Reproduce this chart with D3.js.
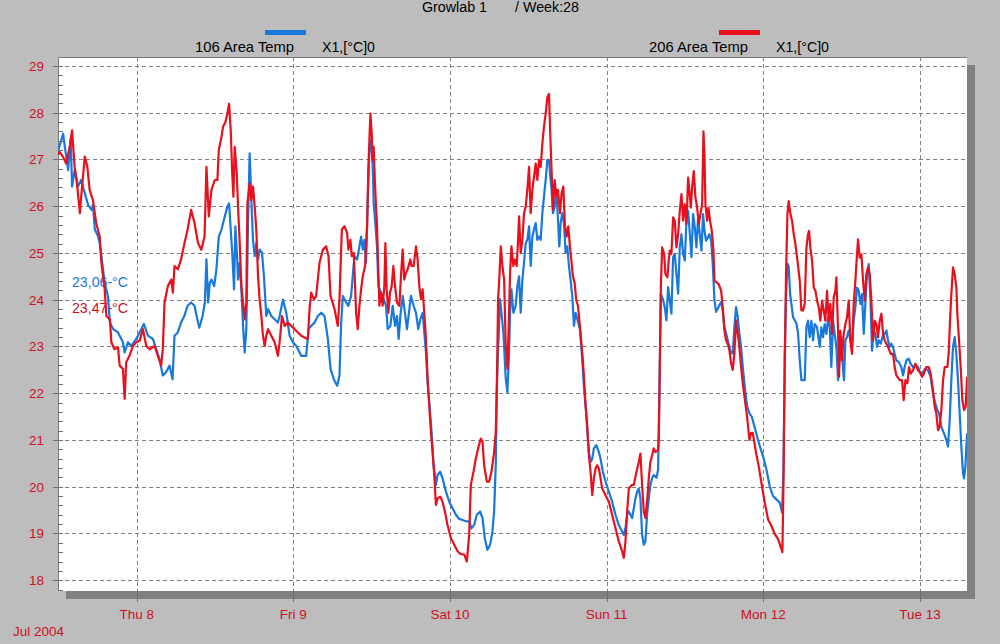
<!DOCTYPE html>
<html><head><meta charset="utf-8">
<script src="https://cdn.jsdelivr.net/npm/d3@7"></script>
<style>html,body{margin:0;padding:0;background:#bdbdbd;}svg{display:block;}</style>
</head><body>
<script>
// ---- data (hours relative to Thu Jul 8 2004 00:00) ----
const blueHours = [-12.0,-11.27,-11.0,-10.5,-10.1,-9.9,-9.5,-9.0,-8.5,-7.95,-7.44,-6.9,-6.7,-6.4,-5.9,-5.66,-5.4,-4.9,-4.4,-4.1,-3.6,-2.86,-2.1,-1.84,-1.33,-0.82,-0.06,0.71,1.11,1.73,2.49,3.0,3.5,4.0,4.5,5.04,5.5,5.8,6.3,6.8,7.3,7.8,8.35,8.86,9.4,9.6,10.1,
10.44,10.69,10.95,11.2,11.46,11.87,12.22,12.58,12.99,13.5,13.9,14.16,14.41,14.67,14.92,15.12,15.38,15.53,15.79,16.04,16.3,16.55,16.8,17.06,17.31,17.57,17.82,18.08,18.33,18.59,18.84,19.2,19.5,19.86,20.12,20.63,21.14,21.64,21.9,22.41,22.92,23.43,23.94,24.45,25.21,25.97,26.33,26.74,27.25,27.76,28.27,28.78,29.29,29.7,30.2,30.71,31.07,31.33,31.58,32.09,32.44,32.85,
33.36,33.77,34.13,34.38,34.64,34.89,35.14,35.4,35.65,35.91,36.16,36.31,36.52,36.82,37.03,37.43,37.84,38.2,38.46,38.87,39.22,39.58,39.88,40.14,40.39,40.75,41.1,41.41,41.77,42.02,42.43,42.79,43.14,43.45,43.81,44.06,44.32,44.57,44.82,45.18,45.49,45.84,46.1,46.5,46.86,47.37,47.88,48.39,48.9,49.41,49.92,50.43,50.94,51.29,51.7,52.11,52.62,52.98,53.33,53.74,54.15,54.5,54.76,55.01,55.16,55.37,55.67,55.93,56.18,
56.54,56.8,57.05,57.2,57.41,57.71,58.07,58.32,58.58,58.83,59.09,59.34,59.6,59.85,60.11,60.36,60.62,60.87,61.13,61.38,61.64,61.89,62.15,62.4,62.66,62.91,63.17,63.32,63.52,63.78,64.03,64.29,64.54,64.75,64.95,65.2,65.46,65.71,65.97,66.22,66.47,66.73,66.99,67.24,67.5,67.9,68.26,68.51,68.77,69.02,69.28,69.53,69.79,70.04,70.4,70.81,71.06,71.42,71.83,72.34,72.84,73.35,73.86,74.37,74.63,74.88,75.14,75.39,75.65,75.9,76.16,76.41,76.66,76.92,77.17,77.43,77.69,77.94,78.19,78.45,78.7,78.96,79.21,
79.63,79.88,80.09,80.3,80.65,80.9,81.16,81.41,81.67,81.92,82.18,82.43,82.69,82.95,83.2,83.46,83.71,83.97,84.22,84.48,84.74,84.99,85.24,85.5,85.75,86.01,86.26,86.52,86.77,86.98,87.23,87.49,87.74,88.0,88.25,88.51,88.76,89.12,89.53,89.78,90.03,90.29,90.55,90.8,91.06,91.31,91.57,91.82,92.08,92.33,92.59,92.85,93.1,93.51,93.87,94.22,94.63,95.04,95.45,95.96,96.47,96.98,97.49,98.0,98.51,98.87,99.08,99.28,99.48,99.69,99.89,100.1,100.3,100.55,100.81,101.07,101.32,101.58,101.83,
102.34,102.6,102.85,103.11,103.36,103.62,103.87,104.23,104.64,104.89,105.15,105.4,105.66,105.92,106.17,106.42,106.68,106.93,107.19,107.45,107.7,107.96,108.21,108.36,108.57,108.82,109.08,109.33,109.59,109.84,110.1,110.35,110.61,110.87,111.12,111.38,111.63,111.89,112.14,112.4,112.65,112.91,113.17,113.42,113.68,113.99,114.24,114.6,114.85,115.1,115.36,115.61,115.87,116.12,116.38,116.74,117.14,117.4,117.65,117.91,118.27,118.57,118.93,119.29,119.7,120.05,120.46,120.82,121.23,121.63,121.99,122.35,122.66,122.91,123.27,123.68,124.04,124.29,124.55,124.8,125.06,125.31,125.57,125.82,126.08,126.33,126.59,126.75,126.95,127.21];
const blueTemps = [27.2,27.55,27.27,26.77,27.45,26.42,26.77,26.42,26.56,26.28,26.03,25.92,26.03,25.5,25.35,25.21,24.93,24.36,24.08,23.51,23.37,23.3,23.09,22.87,23.09,23.01,23.16,23.37,23.48,23.23,23.16,22.94,22.73,22.38,22.45,22.59,22.3,23.23,23.3,23.51,23.65,23.87,23.94,23.87,23.51,23.4,23.65,
23.94,24.86,23.94,24.36,24.43,24.29,24.65,25.35,25.5,25.78,25.99,26.06,25.5,24.93,24.22,25.57,24.93,24.43,24.79,24.22,23.44,22.87,23.37,25.64,27.13,26.13,25.28,24.93,25.21,24.86,25.07,25.0,24.5,23.65,23.8,23.65,23.58,23.51,23.65,24.0,23.72,23.23,23.09,23.01,22.8,22.8,23.37,23.44,23.51,23.65,23.72,23.65,23.16,22.52,22.3,22.16,22.38,23.51,24.08,23.94,23.87,24.08,
24.93,24.86,25.14,25.35,25.07,25.28,24.79,26.13,27.2,27.4,26.84,26.06,25.71,25.14,24.29,24.15,24.01,23.87,23.37,23.44,23.87,23.44,23.65,23.16,23.65,24.08,23.72,23.37,23.79,24.08,23.87,23.72,23.37,23.58,23.72,23.3,22.87,22.23,21.81,21.17,20.46,20.04,20.25,20.32,20.18,19.9,19.68,19.54,19.4,19.31,19.29,19.26,19.26,19.11,19.18,19.4,19.47,19.33,18.9,18.65,18.76,19.04,19.47,20.46,22.02,22.94,24.01,23.65,23.3,
22.31,22.02,22.87,23.72,24.22,23.72,23.87,24.29,24.5,23.72,24.43,24.79,25.21,25.28,25.57,24.72,25.35,25.5,25.64,25.28,25.35,25.28,25.85,26.21,26.56,26.99,26.99,26.7,26.42,25.85,25.99,26.35,25.71,25.14,25.64,25.85,25.64,25.0,25.14,24.72,24.43,24.08,23.44,23.72,23.58,23.37,22.73,22.16,21.74,21.24,20.74,20.53,20.6,20.82,20.89,20.74,20.6,20.32,20.11,19.89,19.68,19.4,19.18,19.04,18.97,19.11,19.4,19.47,19.4,19.33,19.54,19.75,19.89,19.96,19.75,18.97,18.76,18.83,19.4,19.75,20.04,20.18,20.25,
20.19,20.37,22.14,24.13,23.99,23.84,23.56,24.27,23.99,23.7,24.91,24.98,24.55,24.13,25.12,25.4,24.98,24.84,25.69,25.9,25.4,24.91,25.83,25.55,25.12,25.76,25.4,25.05,25.83,25.48,25.26,25.33,25.4,25.26,24.77,23.99,23.74,23.84,23.95,23.77,23.42,23.28,23.13,22.99,22.85,22.85,23.42,23.84,23.63,23.28,22.99,22.57,22.21,21.72,21.57,21.5,21.29,21.08,20.87,20.65,20.37,20.01,19.8,19.73,19.66,19.45,20.3,22.85,24.13,24.77,24.7,24.13,23.91,23.63,23.56,23.49,23.28,22.71,22.28,
22.28,23.41,23.55,23.2,23.55,23.13,23.48,23.41,22.99,23.41,23.2,23.48,23.27,23.62,23.41,22.56,23.55,23.27,22.99,22.28,22.77,23.2,22.49,22.28,23.13,23.2,23.34,23.13,22.99,23.55,23.84,24.26,24.19,23.91,24.12,23.27,23.91,24.55,24.76,24.05,22.91,23.34,23.27,22.99,23.13,23.06,23.2,23.27,23.34,23.13,22.99,23.06,22.99,22.84,22.7,22.67,22.56,22.38,22.56,22.7,22.74,22.63,22.56,22.6,22.56,22.42,22.45,22.53,22.49,22.35,21.99,21.78,21.64,21.57,21.28,21.14,21.0,20.86,21.43,22.28,22.99,23.2,22.84,22.28,21.57,20.86,20.29,20.18,20.43,21.14];

const redHours = [-12.0,-11.8,-11.3,-10.8,-10.25,-9.9,-9.5,-9.2,-8.7,-8.5,-7.95,-7.55,-7.2,-6.7,-6.2,-5.66,-5.4,-5.15,-4.9,-4.64,-4.1,-3.88,-3.4,-2.86,-2.6,-2.1,-1.84,-1.6,-1.1,-0.57,-0.06,0.45,0.96,1.47,1.98,2.75,3.25,3.76,4.0,4.27,4.78,5.3,5.55,5.8,6.3,6.8,7.33,7.8,8.35,8.86,9.4,9.9,10.4,
10.69,11.05,11.46,11.97,12.37,12.58,12.99,13.24,13.6,13.9,14.16,14.41,14.62,14.82,15.02,15.33,15.53,15.79,16.04,16.3,16.55,16.8,16.96,17.31,17.57,17.82,18.08,18.33,18.59,18.84,19.1,19.35,19.61,19.86,20.12,20.63,21.14,21.64,21.9,22.26,22.67,23.17,23.68,24.19,24.7,25.21,25.72,26.23,26.48,26.74,27.15,27.5,28.01,28.52,29.03,29.39,29.7,30.31,30.81,31.07,31.43,31.83,32.24,32.44,32.75,32.95,33.26,
33.62,33.87,34.13,34.38,34.64,34.99,35.3,35.5,35.65,35.81,36.01,36.16,36.31,36.52,36.82,37.03,37.18,37.43,37.69,37.94,38.1,38.3,38.56,38.81,39.07,39.32,39.58,39.88,40.24,40.49,40.75,41.0,41.26,41.51,41.92,42.12,42.43,42.79,43.04,43.3,43.55,43.81,44.06,44.32,44.57,44.82,45.08,45.33,45.59,45.84,46.1,46.5,46.86,47.22,47.62,48.14,48.65,49.16,49.66,50.18,50.58,50.94,51.19,51.6,51.95,52.31,52.72,52.98,53.23,53.64,54.0,54.35,54.76,55.01,55.16,55.37,55.57,55.78,56.03,
56.29,56.54,56.8,57.05,57.2,57.41,57.71,57.92,58.22,58.43,58.58,58.83,59.09,59.34,59.6,59.85,60.11,60.36,60.62,60.87,61.13,61.38,61.64,61.89,62.15,62.4,62.66,62.91,63.17,63.32,63.52,63.78,64.03,64.29,64.54,64.85,65.1,65.36,65.61,65.86,66.12,66.37,66.58,66.83,67.09,67.34,67.6,67.9,68.26,68.51,68.77,69.02,69.28,69.53,69.79,70.04,70.3,70.55,70.81,71.06,71.32,71.83,72.34,72.84,73.35,73.86,74.37,74.63,74.88,75.14,75.39,75.9,76.16,76.57,76.92,77.17,77.43,77.69,77.94,78.19,78.45,78.7,78.96,79.21,79.47,
79.88,79.99,80.14,80.3,80.5,80.8,81.0,81.31,81.51,81.67,81.92,82.18,82.43,82.69,82.95,83.2,83.46,83.71,83.97,84.22,84.48,84.63,84.89,85.09,85.35,85.6,85.86,86.11,86.37,86.62,86.83,86.98,87.13,87.39,87.59,87.84,88.1,88.36,88.51,88.76,89.12,89.53,89.78,90.03,90.29,90.55,90.8,91.06,91.31,91.57,91.82,92.08,92.33,92.59,92.85,93.1,93.51,93.87,94.12,94.38,94.63,94.89,95.29,95.7,96.22,96.73,97.24,97.75,98.26,98.77,98.92,99.08,99.28,99.48,99.69,99.89,100.15,100.4,100.66,100.91,101.22,101.58,101.83,102.09,
102.34,102.6,102.85,103.01,103.21,103.47,103.72,103.98,104.23,104.49,104.74,105.0,105.25,105.5,105.76,106.02,106.27,106.53,106.78,107.04,107.19,107.45,107.6,107.8,108.06,108.31,108.57,108.82,109.08,109.33,109.59,109.84,110.1,110.35,110.51,110.76,111.02,111.28,111.53,111.78,112.04,112.3,112.55,112.81,113.06,113.32,113.57,113.83,114.09,114.34,114.6,114.85,115.1,115.51,115.87,116.12,116.38,116.89,117.25,117.5,117.76,118.06,118.32,118.57,118.93,119.29,119.7,120.05,120.31,120.61,120.97,121.33,121.63,121.99,122.25,122.5,122.76,123.01,123.27,123.53,123.78,124.19,124.39,124.6,124.8,125.06,125.31,125.57,125.72,125.98,126.23,126.49,126.75,127.0,127.21];
const redTemps = [27.1,27.16,27.06,26.91,27.27,27.62,26.84,26.56,25.85,26.2,27.06,26.84,26.35,26.13,25.64,25.35,24.79,24.5,24.22,23.65,23.58,23.09,22.94,22.98,22.59,22.52,21.88,22.66,22.8,23.01,23.09,23.12,23.37,23.01,22.94,23.01,22.8,22.59,22.94,23.94,24.29,24.43,24.15,24.72,24.65,24.86,25.21,25.5,25.92,25.64,25.21,25.07,25.35,
26.84,25.78,26.35,26.56,26.56,27.2,27.48,27.7,27.8,27.98,28.19,27.62,26.77,26.2,27.27,26.7,25.99,25.21,24.29,23.94,23.58,23.94,26.06,26.49,26.13,26.42,25.99,25.5,24.5,24.0,23.65,23.23,23.01,23.23,23.37,23.23,23.09,22.8,23.09,23.65,23.44,23.51,23.44,23.37,23.3,23.23,23.19,23.16,23.8,24.15,24.0,24.08,24.79,25.07,25.14,24.93,24.08,23.8,23.44,24.0,25.5,25.57,25.43,25.07,25.28,24.93,25.0,
23.72,23.37,23.87,24.22,24.5,24.72,25.57,26.84,27.41,27.98,27.55,26.99,27.27,26.42,25.57,24.57,23.87,24.15,23.87,24.29,25.21,24.22,23.72,24.15,24.29,24.72,24.29,23.94,23.87,24.5,25.07,24.43,24.57,24.65,24.86,24.72,24.72,25.14,24.86,24.29,24.01,24.22,23.72,23.16,22.3,21.74,21.17,20.74,20.25,19.61,19.75,19.79,19.68,19.47,19.18,18.9,18.76,18.62,18.56,18.55,18.4,18.97,20.04,20.32,20.6,20.82,21.03,20.96,20.46,20.11,20.11,20.32,20.74,21.17,22.02,24.01,24.5,25.14,24.72,
24.43,23.01,22.52,23.72,24.57,25.14,24.72,24.86,24.72,25.28,25.78,25.0,25.28,25.85,25.99,26.35,26.84,25.85,26.35,26.63,26.91,26.56,26.99,26.84,27.34,27.7,27.98,28.33,28.4,27.7,26.91,25.92,26.56,26.21,26.35,25.85,26.28,26.42,25.57,25.35,25.57,25.14,24.86,24.5,24.36,24.0,23.87,23.44,22.87,22.38,21.74,21.31,20.67,20.32,19.82,20.18,20.39,20.46,20.39,20.18,19.96,19.82,19.68,19.4,19.11,18.83,18.62,18.48,18.83,19.47,19.96,20.04,20.04,20.32,20.53,20.71,20.04,19.47,19.33,19.68,20.18,20.53,20.67,20.82,20.74,
20.79,21.08,22.57,24.27,25.12,24.98,24.55,24.48,24.84,25.05,24.98,25.76,25.69,25.12,25.4,25.9,26.26,25.69,26.04,25.62,26.61,26.4,25.97,26.4,26.75,26.18,25.97,25.62,25.83,26.04,27.6,27.11,26.04,25.69,25.97,25.69,25.48,25.05,24.41,24.38,24.34,24.2,23.84,23.35,23.13,23.06,22.92,22.64,22.5,22.85,23.56,23.28,22.99,22.57,22.21,21.93,21.5,21.0,21.15,21.15,20.94,20.72,20.44,20.09,19.66,19.3,19.16,18.99,18.88,18.67,18.6,20.01,22.57,24.55,25.83,26.11,25.83,25.69,25.4,25.19,24.84,24.41,23.77,23.77,
23.91,25.11,25.4,25.47,25.11,24.83,24.26,24.19,23.98,23.84,23.55,23.98,23.77,23.55,24.19,23.55,23.91,23.27,24.05,24.19,24.48,23.34,22.35,23.34,22.7,23.27,23.48,23.62,23.98,23.13,22.84,23.91,24.4,24.97,25.29,24.9,24.97,24.4,23.98,24.55,24.69,24.55,23.98,23.13,23.55,23.48,23.2,23.55,23.7,23.27,23.13,23.06,22.99,22.84,22.84,22.56,22.38,22.28,22.28,21.85,22.28,22.21,22.56,22.42,22.49,22.63,22.49,22.45,22.35,22.42,22.56,22.56,22.42,22.06,21.71,21.57,21.21,21.28,21.64,22.28,22.56,22.56,22.84,23.55,24.12,24.69,24.55,24.26,23.7,23.13,22.56,21.85,21.64,21.71,22.35];

const yTickValues = [18,19,20,21,22,23,24,25,26,27,28,29];
const dayTickLabels = ["Thu 8","Fri 9","Sat 10","Sun 11","Mon 12","Tue 13"];
const dayTickDates = [8,9,10,11,12,13];
const seriesNames = ["106 Area Temp","206 Area Temp"];
const seriesUnits = ["X1,[°C]0","X1,[°C]0"];
const seriesColors = ["#1878dc","#e8101c"];
const currentValues = ["23,06-°C","23,47-°C"];

// ---- layout ----
const W = 1000, H = 644;
const L = 58, R = 967, T = 57, B = 591;
const base = new Date(2004, 6, 8, 0, 0, 0).getTime();
const toDate = h => new Date(base + h * 3600e3);

const x = d3.scaleTime()
  .domain([new Date(2004,6,7,11,57), new Date(2004,6,13,7,12)])
  .range([L, R]);
const y = d3.scaleLinear().domain([17.77, 29.19]).range([B, T]);

const svg = d3.select("body").append("svg").attr("width", W).attr("height", H);
svg.append("rect").attr("width", W).attr("height", H).attr("fill", "#bdbdbd");

// shadow + plot
svg.append("rect").attr("x", L + 8).attr("y", T + 8).attr("width", R - L).attr("height", B - T).attr("fill", "#808080");
svg.append("rect").attr("x", L).attr("y", T).attr("width", R - L).attr("height", B - T).attr("fill", "#ffffff");
svg.append("path").attr("d", `M${L+0.5},${B}V${T+0.5}H${R}`).attr("fill","none").attr("stroke","#7a7a7a");

const grid = svg.append("g").attr("stroke", "#808080").attr("stroke-width", 1).attr("stroke-dasharray", "4,3");
yTickValues.forEach(v => {
  const yy = Math.round(y(v)) + 0.5;
  grid.append("line").attr("x1", L).attr("x2", R).attr("y1", yy).attr("y2", yy);
});
dayTickDates.forEach(d => {
  const xx = Math.round(x(new Date(2004,6,d))) + 0.5;
  grid.append("line").attr("x1", xx).attr("x2", xx).attr("y1", T).attr("y2", B);
});

// minor ticks on left (inside) every 0.2
const minor = d3.range(17.8, 29.2, 0.2);
const tg = svg.append("g").attr("stroke", "#707070").attr("stroke-width", 1);
minor.forEach(v => {
  const yy = Math.round(y(v)) + 0.5;
  tg.append("line").attr("x1", L).attr("x2", L + 5).attr("y1", yy).attr("y2", yy);
});
yTickValues.forEach(v => {
  const yy = Math.round(y(v)) + 0.5;
  tg.append("line").attr("x1", L - 5).attr("x2", L).attr("y1", yy).attr("y2", yy);
});
dayTickDates.forEach(d => {
  const xx = Math.round(x(new Date(2004,6,d))) + 0.5;
  tg.append("line").attr("x1", xx).attr("x2", xx).attr("y1", B).attr("y2", B + 11);
});

// y labels
const axisColor = "#d0101e";
svg.append("g").selectAll("text").data(yTickValues).join("text")
  .attr("x", 44).attr("y", d => y(d) + 5)
  .attr("text-anchor", "end").attr("fill", axisColor)
  .attr("font-family", "Liberation Sans, Arial, sans-serif").attr("font-size", 13.5)
  .text(d => d);

// x labels
svg.append("g").selectAll("text").data(dayTickDates).join("text")
  .attr("x", d => x(new Date(2004,6,d))).attr("y", 619)
  .attr("text-anchor", "middle").attr("fill", axisColor)
  .attr("font-family", "Liberation Sans, Arial, sans-serif").attr("font-size", 13.5)
  .text((d, i) => dayTickLabels[i]);
svg.append("text").attr("x", 13).attr("y", 636).attr("fill", axisColor)
  .attr("font-family", "Liberation Sans, Arial, sans-serif").attr("font-size", 13.5)
  .text("Jul 2004");

// current value annotations
svg.append("text").attr("x", 72).attr("y", 287).attr("fill", seriesColors[0])
  .attr("font-family", "Liberation Sans, Arial, sans-serif").attr("font-size", 14)
  .attr("textLength", 56).attr("lengthAdjust", "spacingAndGlyphs").text(currentValues[0]);
svg.append("text").attr("x", 72).attr("y", 313).attr("fill", "#d0101e")
  .attr("font-family", "Liberation Sans, Arial, sans-serif").attr("font-size", 14)
  .attr("textLength", 56).attr("lengthAdjust", "spacingAndGlyphs").text(currentValues[1]);

// lines
svg.append("clipPath").attr("id", "clip").append("rect")
  .attr("x", L).attr("y", T).attr("width", R - L).attr("height", B - T);
const line = d3.line().x(d => x(d[0])).y(d => y(d[1]));
const blueData = blueHours.map((h, i) => [toDate(h), blueTemps[i]]);
const redData = redHours.map((h, i) => [toDate(h), redTemps[i]]);
const lg = svg.append("g").attr("clip-path", "url(#clip)");
lg.append("path").attr("d", line(blueData)).attr("fill", "none")
  .attr("stroke", seriesColors[0]).attr("stroke-width", 2.2).attr("stroke-linejoin", "round");
lg.append("path").attr("d", line(redData)).attr("fill", "none")
  .attr("stroke", seriesColors[1]).attr("stroke-width", 2.2).attr("stroke-linejoin", "round");

// title
const narrow = "Liberation Sans Narrow, Arial Narrow, Liberation Sans, sans-serif";
svg.append("text").attr("x", 422).attr("y", 12).attr("fill", "#000").attr("font-family", narrow)
  .attr("font-size", 14).attr("textLength", 65).attr("lengthAdjust", "spacingAndGlyphs").text("Growlab 1");
svg.append("text").attr("x", 515).attr("y", 12).attr("fill", "#000").attr("font-family", narrow)
  .attr("font-size", 14).attr("textLength", 64).attr("lengthAdjust", "spacingAndGlyphs").text("/ Week:28");

// legend
const legendX = [{bar: 265, name: 195, unit: 322}, {bar: 719, name: 649, unit: 776}];
legendX.forEach((p, i) => {
  svg.append("rect").attr("x", p.bar).attr("y", 30).attr("width", 41).attr("height", 5).attr("fill", seriesColors[i]);
  svg.append("text").attr("x", p.name).attr("y", 52).attr("fill", "#000").attr("font-family", narrow)
    .attr("font-size", 15).attr("textLength", 99).attr("lengthAdjust", "spacingAndGlyphs").text(seriesNames[i]);
  svg.append("text").attr("x", p.unit).attr("y", 52).attr("fill", "#000").attr("font-family", narrow)
    .attr("font-size", 15).attr("textLength", 53).attr("lengthAdjust", "spacingAndGlyphs").text(seriesUnits[i]);
});
</script>
</body></html>
